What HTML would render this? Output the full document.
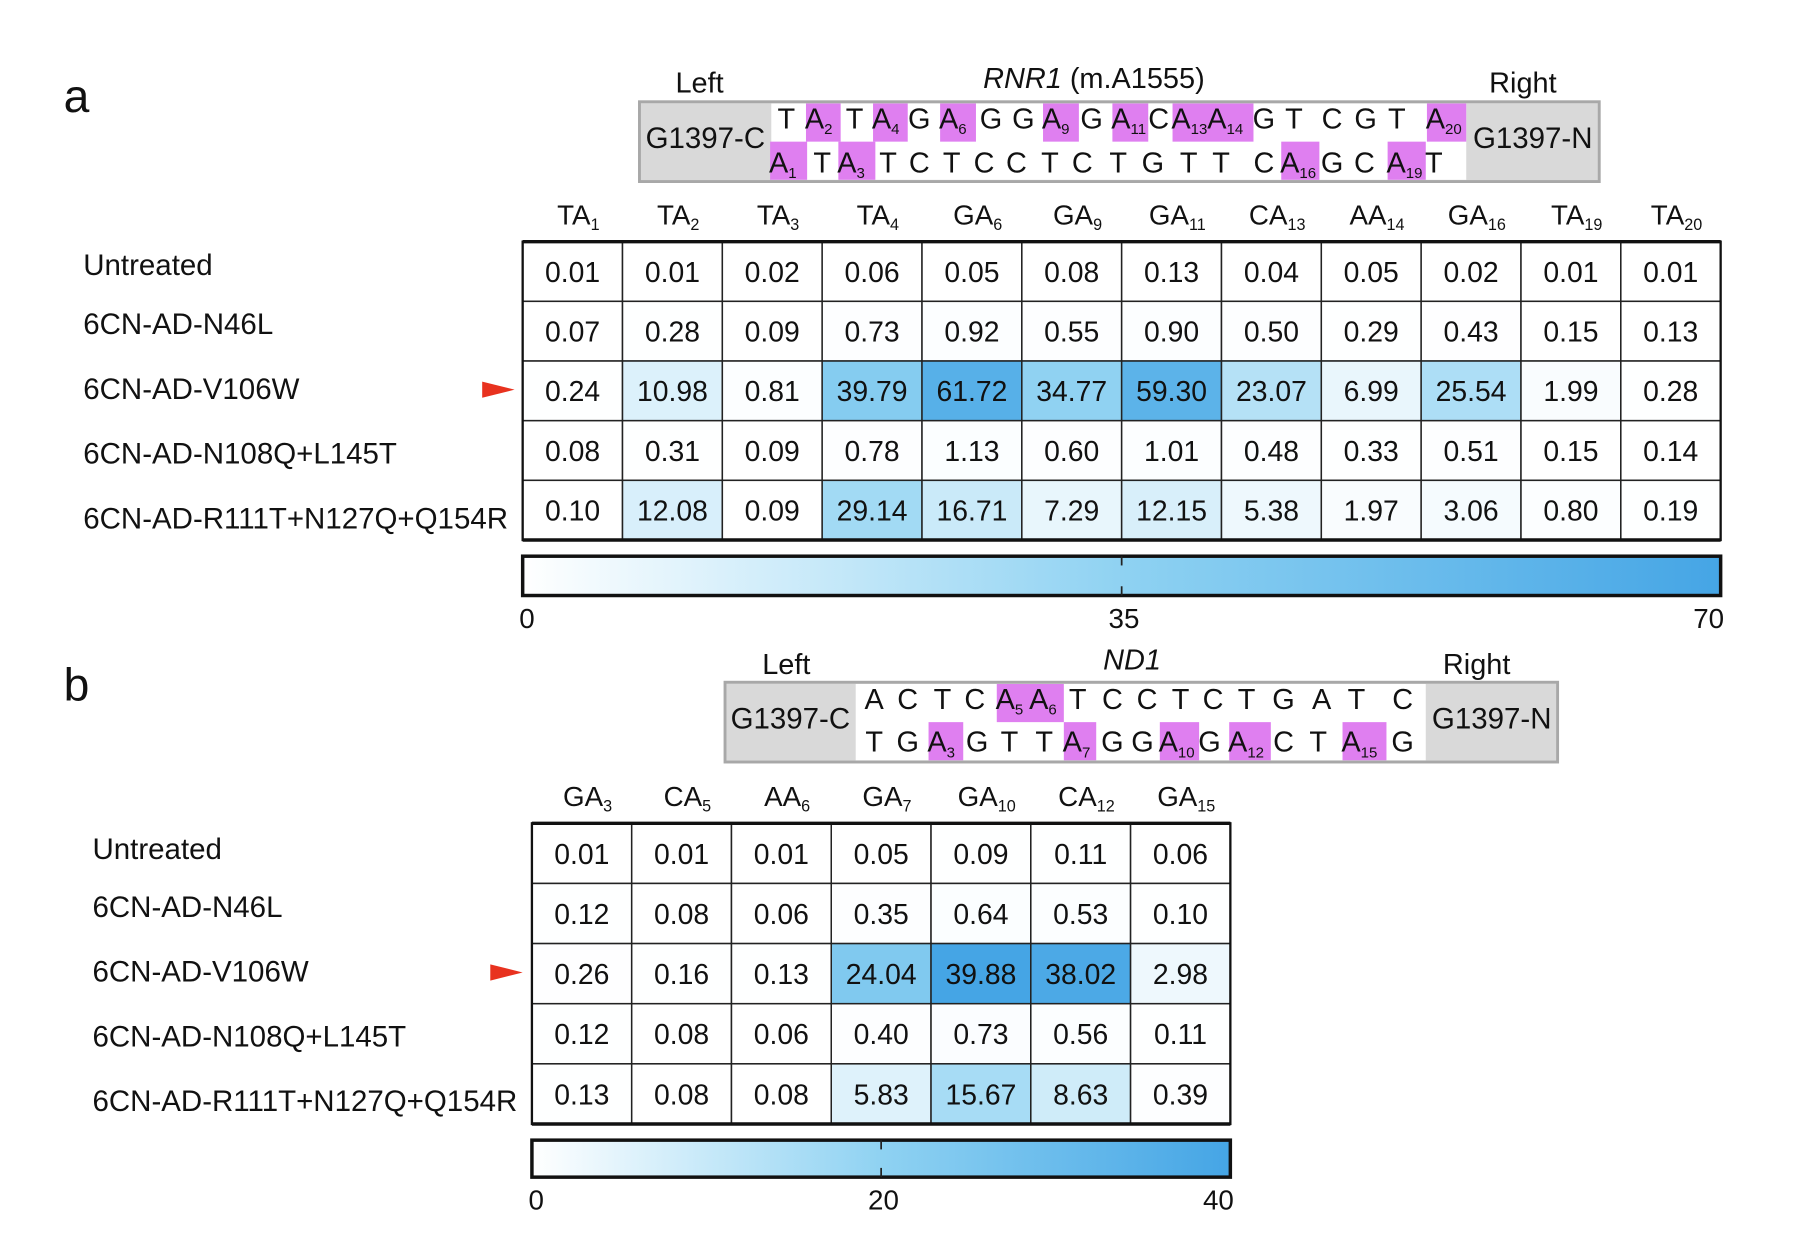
<!DOCTYPE html>
<html><head><meta charset="utf-8"><style>
html,body{margin:0;padding:0;background:#fff}
svg{display:block;font-family:"Liberation Sans",Arial,sans-serif}
</style></head><body>
<svg id="fig" width="1812" height="1250" viewBox="0 0 1567 1081" preserveAspectRatio="none" xmlns="http://www.w3.org/2000/svg"></svg>
<script>
// ---- data ----
const rowsA = ["Untreated","6CN-AD-N46L","6CN-AD-V106W","6CN-AD-N108Q+L145T","6CN-AD-R111T+N127Q+Q154R"];
const colsA = [["TA","1"],["TA","2"],["TA","3"],["TA","4"],["GA","6"],["GA","9"],["GA","11"],["CA","13"],["AA","14"],["GA","16"],["TA","19"],["TA","20"]];
const valsA = [
 [0.01,0.01,0.02,0.06,0.05,0.08,0.13,0.04,0.05,0.02,0.01,0.01],
 [0.07,0.28,0.09,0.73,0.92,0.55,0.90,0.50,0.29,0.43,0.15,0.13],
 [0.24,10.98,0.81,39.79,61.72,34.77,59.30,23.07,6.99,25.54,1.99,0.28],
 [0.08,0.31,0.09,0.78,1.13,0.60,1.01,0.48,0.33,0.51,0.15,0.14],
 [0.10,12.08,0.09,29.14,16.71,7.29,12.15,5.38,1.97,3.06,0.80,0.19]];
const ticksA = [0,35,70];
const rowsB = rowsA;
const colsB = [["GA","3"],["CA","5"],["AA","6"],["GA","7"],["GA","10"],["CA","12"],["GA","15"]];
const valsB = [
 [0.01,0.01,0.01,0.05,0.09,0.11,0.06],
 [0.12,0.08,0.06,0.35,0.64,0.53,0.10],
 [0.26,0.16,0.13,24.04,39.88,38.02,2.98],
 [0.12,0.08,0.06,0.40,0.73,0.56,0.11],
 [0.13,0.08,0.08,5.83,15.67,8.63,0.39]];
const ticksB = [0,20,40];

const NS="http://www.w3.org/2000/svg";
const svg=document.getElementById('fig');
function el(tag,attrs,parent){const e=document.createElementNS(NS,tag);for(const k in attrs)e.setAttribute(k,attrs[k]);(parent||svg).appendChild(e);return e;}
function txt(x,y,s,size,anchor,parent,extra){const t=el('text',Object.assign({x:x,y:y,'font-size':size,'text-anchor':anchor||'middle',fill:'#111'},extra||{}),parent);t.textContent=s;return t;}
function lerp(a,b,t){return Math.round(a+(b-a)*t);}
function color(v,max){let t=Math.max(0,Math.min(1,v/max));const c0=[255,255,255],c1=[143,210,242],c2=[69,165,229];let a,b,u;if(t<0.5){a=c0;b=c1;u=t/0.5}else{a=c1;b=c2;u=(t-0.5)/0.5}return `rgb(${lerp(a[0],b[0],u)},${lerp(a[1],b[1],u)},${lerp(a[2],b[2],u)})`;}

function heatmap(o){
  const g=el('g',{});
  
  
  const nC=o.cols.length,nR=o.rows.length;
  const cw=(o.x1-o.x0)/nC,rh=(o.y1-o.y0)/nR;
  const xs=i=>o.x0+i*cw, ys=j=>o.y0+j*rh;
  o.cols.forEach((c,i)=>{
    const t=txt(xs(i)+cw/2+5,o.hy,c[0],24,'middle',g);
    
    
    const s=el('tspan',{'font-size':14,dy:5},t);s.textContent=c[1];
  });
  o.rows.forEach((r,j)=>{
    const t=txt(o.lx,o.ly[j],r,25.5,'start',g);
    
    
    o.vals[j].forEach((v,i)=>{
      const rc=el('rect',{x:xs(i),y:ys(j),width:cw,height:rh,fill:color(v,o.max),stroke:'#222','stroke-width':1.3},g);
      
      
      const vt=txt(xs(i)+cw/2,ys(j)+rh/2+9,v.toFixed(2),24.5,'middle',g);
      
      
    });
  });
  el('line',{x1:o.x0,x2:o.x1,y1:o.y0,y2:o.y0,stroke:'#111','stroke-width':3},g);
  el('line',{x1:o.x0,x2:o.x1,y1:o.y1,y2:o.y1,stroke:'#111','stroke-width':3},g);
  el('rect',{x:o.x0,y:o.y0,width:o.x1-o.x0,height:o.y1-o.y0,fill:'none',stroke:'#111','stroke-width':2},g);
  const ay=ys(2)+rh/2-1;
  const ar=el('polygon',{points:`${o.ax},${ay-7} ${o.ax+28},${ay} ${o.ax},${ay+7}`,fill:'#e8321f'},g);
  
  
  const gid='grad'+o.name;
  const defs=el('defs',{},g);
  const lg=el('linearGradient',{id:gid,x1:0,x2:1,y1:0,y2:0},defs);
  [0,0.25,0.5,0.75,1].forEach(f=>el('stop',{offset:f,'stop-color':color(f*o.max,o.max)},lg));
  const cb=el('rect',{x:o.x0,y:o.cy0,width:o.x1-o.x0,height:o.cy1-o.cy0,fill:`url(#${gid})`,stroke:'#111','stroke-width':3},g);
  
  
  const sx=v=>o.x0+(o.x1-o.x0)*v/o.max;
  o.ticks.forEach((tv,k)=>{
    if(k>0&&k<o.ticks.length-1){
      el('line',{x1:sx(tv),x2:sx(tv),y1:o.cy0,y2:o.cy0+8,stroke:'#222','stroke-width':1.5},g);
      el('line',{x1:sx(tv),x2:sx(tv),y1:o.cy1-8,y2:o.cy1,stroke:'#222','stroke-width':1.5},g);
    }
    const anc=k===0?'start':(k===o.ticks.length-1?'end':'middle');
    const tt=txt(sx(tv)+(k===0?-3:(k===o.ticks.length-1?3:2)),o.cy1+28,String(tv),24,anc,g);
    
    
  });
}

function seqBox(o){
  const g=el('g',{});
  
  
  el('rect',{x:o.x0,y:o.y0,width:o.x1-o.x0,height:o.y1-o.y0,fill:'#d9d9d9',stroke:'#a8a8a8','stroke-width':2.5},g);
  el('rect',{x:o.w0,y:o.y0+1.5,width:o.w1-o.w0,height:o.y1-o.y0-3,fill:'#fff'},g);
  const rh=(o.y1-o.y0-3)/2;
  o.boxes.forEach(b=>el('rect',{x:b[0],y:b[2]===0?o.y0+1.5:o.y0+1.5+rh,width:b[1]-b[0],height:rh,fill:'#df7ff0'},g));
  [o.row1,o.row2].forEach((row,ri)=>{
    const by=ri===0?o.b1:o.b2;
    row.forEach(l=>{
      if(l[2]){const t=txt(l[1]-8,by,'A',25,'start',g);const s=el('tspan',{'font-size':13,dy:5},t);s.textContent=l[2];}
      else txt(l[1],by,l[0],25,'middle',g);
    });
  });
  txt((o.x0+o.w0)/2,o.lab,'G1397-C',25.5,'middle',g);
  txt((o.w1+o.x1)/2,o.lab,'G1397-N',25.5,'middle',g);
  txt(o.left,o.ty,'Left',25,'middle',g);
  txt(o.right,o.ty,'Right',25,'middle',g);
  const tt=txt(o.title[0],o.ty-4,'',25,'middle',g);
  const it=el('tspan',{'font-style':'italic'},tt);it.textContent=o.title[1];
  if(o.title[2]){const r=el('tspan',{},tt);r.textContent=o.title[2];}
}

const pa=txt(55,97,'a',40,'start');
const pb=txt(55,606,'b',40,'start');

seqBox({name:'sequence-rnr1',x0:553,x1:1383,y0:88,y1:157,w0:667,w1:1268,b1:111,b2:149,lab:128,ty:80,left:605,right:1317,title:[946,'RNR1',' (m.A1555)'],
 boxes:[[697,727,0],[755,785,0],[813,844,0],[902,933,0],[962,993,0],[1014,1084,0],[1234,1268,0],[666,698,1],[725,757,1],[1108,1141,1],[1200,1233,1]],
 row1:[['T',680],['A',704,'2'],['T',739],['A',762,'4'],['G',795],['A',820,'6'],['G',857],['G',885],['A',909,'9'],['G',944],['A',969,'11'],['C',1002],['A',1021,'13'],['A',1052,'14'],['G',1093],['T',1119],['C',1152],['G',1181],['T',1208],['A',1241,'20']],
 row2:[['A',673,'1'],['T',711],['A',732,'3'],['T',768],['C',795],['T',823],['C',851],['C',879],['T',908],['C',936],['T',967],['G',997],['T',1028],['T',1056],['C',1093],['A',1115,'16'],['G',1152],['C',1180],['A',1207,'19'],['T',1240]]});

seqBox({name:'sequence-nd1',x0:627,x1:1347,y0:590,y1:659,w0:740,w1:1233,b1:613,b2:650,lab:630,ty:583,left:680,right:1277,title:[979,'ND1',''],
 boxes:[[862,920,0],[803,833,1],[920,948,1],[1003,1037,1],[1063,1099,1],[1161,1199,1]],
 row1:[['A',756],['C',785],['T',815],['C',843],['A',869,'5'],['A',898,'6'],['T',932],['C',962],['C',992],['T',1021],['C',1049],['T',1078],['G',1110],['A',1143],['T',1173],['C',1213]],
 row2:[['T',756],['G',785],['A',810,'3'],['G',845],['T',873],['T',903],['A',927,'7'],['G',962],['G',988],['A',1010,'10'],['G',1046],['A',1070,'12'],['C',1110],['T',1140],['A',1168,'15'],['G',1213]]});

heatmap({name:'heatmap-rnr1',rows:rowsA,cols:colsA,vals:valsA,max:70,ticks:ticksA,x0:452,x1:1488,y0:209,y1:467,hy:194,lx:72,ly:[238,289,345,401,457],ax:417,cy0:481,cy1:515});
heatmap({name:'heatmap-nd1',rows:rowsB,cols:colsB,vals:valsB,max:40,ticks:ticksB,x0:460,x1:1064,y0:712,y1:972,hy:697,lx:80,ly:[743,793,849,905,961],ax:424,cy0:986,cy1:1018});
</script>
</body></html>
